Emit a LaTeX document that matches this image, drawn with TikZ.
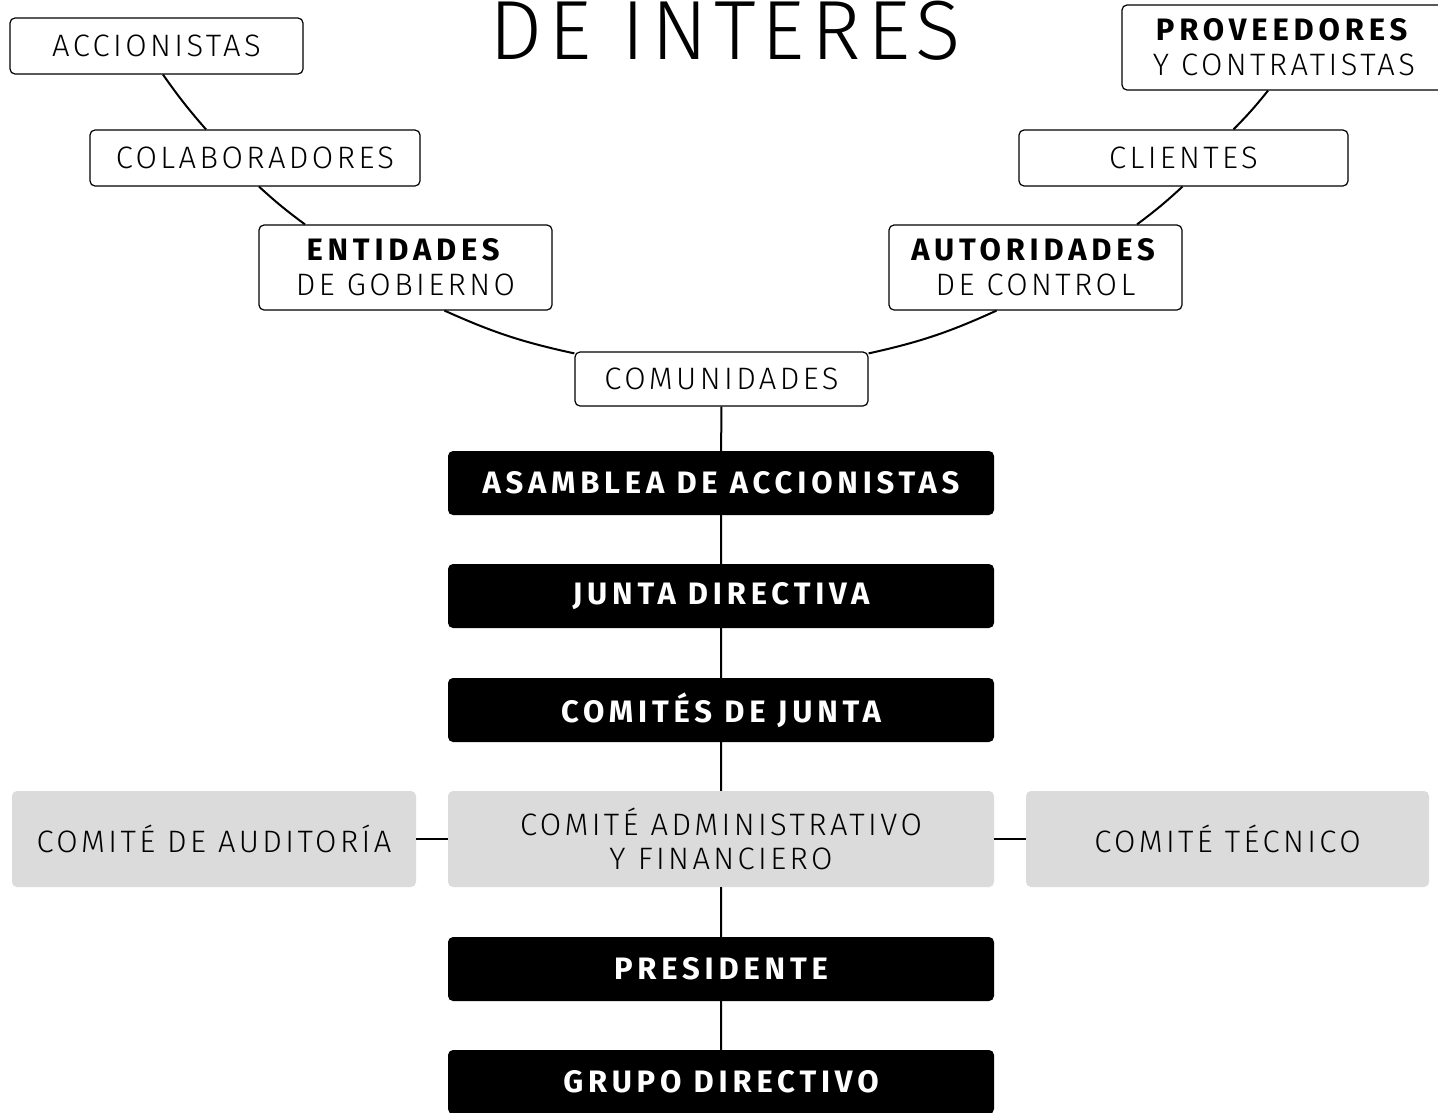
\documentclass[tikz,border=0pt]{standalone}
\usepackage{fontspec}
\setmainfont{Fira Sans}[UprightFont={* Light}, BoldFont={* Bold}, UprightFeatures={LetterSpace=11}, BoldFeatures={LetterSpace=15.5}]
\newfontfamily\titulo{Fira Sans}[UprightFont={* Light}, LetterSpace=7.5]
\definecolor{gris}{RGB}{219,219,219}
\tikzset{>=stealth,
  wbox/.style={draw, fill=white, line width=1.2pt, rounded corners=5pt, align=center, inner sep=0pt, font=\fontsize{31}{35}\selectfont},
  bbox/.style={fill=black, text=white, rounded corners=5pt, minimum width=546pt, minimum height=64pt, inner sep=0pt, font=\fontsize{31}{35}\selectfont\bfseries},
  gbox/.style={fill=gris, rounded corners=5pt, minimum height=96pt, inner sep=0pt, align=center, font=\fontsize{31}{34}\selectfont},
  lazo/.style={line width=2pt}
}

\begin{document}
\begin{tikzpicture}[x=1pt, y=1pt]
\clip (0,0) rectangle (1438,-1112);
\node[anchor=base, inner sep=0pt, font=\titulo\fontsize{84}{84}\selectfont] (tit) at (725,-59) {DE INTERES};
\node[wbox, minimum width=293pt, minimum height=56pt] (acc) at (156.5,-46) {ACCIONISTAS};
\node[wbox, minimum width=330pt, minimum height=56pt] (col) at (255,-158) {COLABORADORES};
\node[wbox, minimum width=293pt, minimum height=85pt] (ent) at (405.5,-267.5) {\textbf{ENTIDADES}\\DE GOBIERNO};
\node[wbox, minimum width=293pt, minimum height=54pt] (com) at (721.5,-379) {COMUNIDADES};
\node[wbox, minimum width=293pt, minimum height=85pt] (aut) at (1035.5,-267.5) {\textbf{AUTORIDADES}\\DE CONTROL};
\node[wbox, minimum width=329pt, minimum height=56pt] (cli) at (1183.5,-158) {CLIENTES};
\node[wbox, minimum width=324pt, minimum height=85pt] (prov) at (1284,-47.5) {\textbf{PROVEEDORES}\\Y CONTRATISTAS};
\node[bbox] (asa) at (721,-483) {ASAMBLEA DE ACCIONISTAS};
\node[bbox] (jun) at (721,-596) {JUNTA DIRECTIVA};
\node[bbox] (cjt) at (721,-710) {COMITÉS DE JUNTA};
\node[gbox, minimum width=404pt] (aud) at (214,-839) {COMITÉ DE AUDITORÍA};
\node[gbox, minimum width=546pt] (adm) at (721,-839) {COMITÉ ADMINISTRATIVO\\Y FINANCIERO};
\node[gbox, minimum width=403pt] (tec) at (1227.5,-839) {COMITÉ TÉCNICO};
\node[bbox] (pre) at (721,-969) {PRESIDENTE};
\node[bbox] (gru) at (721,-1082) {GRUPO DIRECTIVO};
\draw[lazo] ([xshift=6.5pt]acc.south) to[bend right=3] ([xshift=-49pt]col.north);
\draw[lazo] ([xshift=4pt]col.south) to[bend right=3] ([xshift=-100.5pt]ent.north);
\draw[lazo] ([xshift=39pt]ent.south) to[bend right=6] ([yshift=-2pt]com.north west);
\draw[lazo] ([yshift=-2pt]com.north east) to[bend right=6] ([xshift=-39pt]aut.south);
\draw[lazo] ([xshift=101.5pt]aut.north) to[bend right=3] ([xshift=-1pt]cli.south);
\draw[lazo] ([xshift=50pt]cli.north) to[bend right=3] ([xshift=-16pt]prov.south);
\draw[lazo] (com) -- (asa) -- (jun) -- (cjt) -- (adm) -- (pre) -- (gru);
\draw[lazo] (aud) -- (adm) -- (tec);
\end{tikzpicture}
\end{document}
